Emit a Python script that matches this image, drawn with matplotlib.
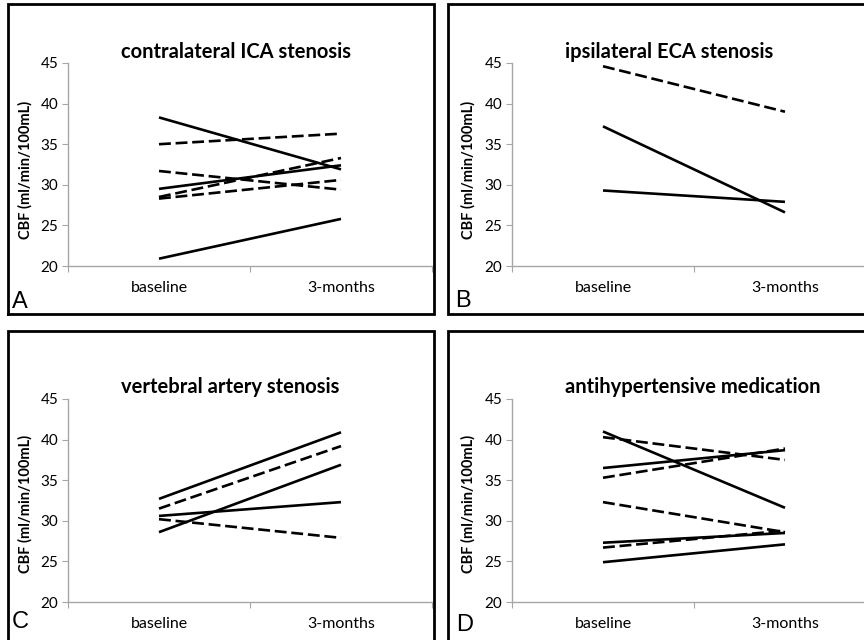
import matplotlib
matplotlib.use("Agg")
import matplotlib.pyplot as plt
from matplotlib.lines import Line2D

# -- data: CBF (ml/min/100mL) at baseline and 3 months, per patient --
categories = ["baseline", "3-months"]

panel_titles = [
    "contralateral ICA stenosis",
    "ipsilateral ECA stenosis",
    "vertebral artery stenosis",
    "antihypertensive medication",
]
panel_letters = ["A", "B", "C", "D"]

a_solid = [[38.3, 31.9], [29.5, 32.4], [20.9, 25.8]]
a_dashed = [[35.0, 36.3], [31.7, 29.4], [28.5, 33.3], [28.3, 30.6]]

b_solid = [[37.2, 26.6], [29.3, 27.9]]
b_dashed = [[44.6, 39.0]]

c_solid = [[32.7, 40.9], [28.6, 36.9], [30.6, 32.3]]
c_dashed = [[31.5, 39.2], [30.2, 27.9]]

d_solid = [[41.0, 31.6], [36.5, 38.7], [27.3, 28.5], [24.9, 27.1]]
d_dashed = [[40.3, 37.5], [35.3, 38.9], [32.3, 28.6], [26.7, 28.8]]

solid_sets = [a_solid, b_solid, c_solid, d_solid]
dashed_sets = [a_dashed, b_dashed, c_dashed, d_dashed]

W, H = 864, 640
plt.rcParams["font.family"] = ["Lato", "DejaVu Sans"]

fig = plt.figure(figsize=(W / 100, H / 100), dpi=100)


def fx(px):
    return px / W


def fy(py):
    return 1 - py / H


# axes boxes in pixels: left, top, right, bottom
boxes = [(68, 63, 432, 266), (512, 63, 876, 266),
         (68, 399, 432, 602), (512, 399, 876, 602)]
title_pos = [(121, 52), (565, 52), (121, 387), (565, 387)]
ylabel_pos = [(25, 170), (468, 170), (25, 504), (468, 504)]
letter_pos = [(12, 302), (455, 301), (12, 622), (456, 625)]

axis_grey = "#a6a6a6"
x = [0, 1]

for i in range(4):
    l, t, r, b = boxes[i]
    ax = fig.add_axes([fx(l), fy(b), fx(r - l), (b - t) / H])
    for s in solid_sets[i]:
        ax.plot(x, s, color="black", lw=1.9, solid_capstyle="butt")
    for s in dashed_sets[i]:
        ax.plot(x, s, color="black", lw=1.9, linestyle=(0, (4.5, 1.8)),
                dash_capstyle="butt")
    ax.set_xlim(-0.5, 1.5)
    ax.set_ylim(20, 45)
    ax.set_yticks([20, 25, 30, 35, 40, 45])
    ax.set_xticks([-0.5, 0.5, 1.5])
    ax.set_xticklabels([])
    ax.set_xticks(x, minor=True)
    ax.set_xticklabels(categories, minor=True, fontsize=11.5)
    ax.tick_params(axis="x", which="minor", length=0, pad=11)
    ax.tick_params(axis="x", which="major", length=4, color=axis_grey)
    ax.tick_params(axis="y", length=4, color=axis_grey, labelsize=11, pad=3)
    for side in ["top", "right"]:
        ax.spines[side].set_visible(False)
    for side in ["left", "bottom"]:
        ax.spines[side].set_color(axis_grey)
        ax.spines[side].set_linewidth(1.0)
    ax.patch.set_alpha(0)

    tx, ty = title_pos[i]
    fig.text(fx(tx), fy(ty), panel_titles[i], ha="left", va="center",
             fontsize=14.5, fontweight="bold")
    lx, ly = ylabel_pos[i]
    fig.text(fx(lx), fy(ly), "CBF (ml/min/100mL)", rotation=90,
             ha="center", va="center", fontsize=10.5, fontweight="bold")
    px_, py_ = letter_pos[i]
    fig.text(fx(px_), fy(py_), panel_letters[i], ha="left", va="center",
             fontsize=17, family="Liberation Sans")

# -- panel frames (partially cropped as in the source figure) --
frames = [
    [(8, 314), (8, 4), (434, 4), (434, 314), (8, 314)],
    [(880, 4), (448, 4), (448, 314), (880, 314)],
    [(8, 650), (8, 331), (434, 331), (434, 650)],
    [(448, 650), (448, 331), (880, 331)],
]
for pts in frames:
    xs = [fx(p[0]) for p in pts]
    ys = [fy(p[1]) for p in pts]
    fig.add_artist(Line2D(xs, ys, color="black", lw=2.0,
                          transform=fig.transFigure, solid_joinstyle="miter"))

fig.savefig("out.png", dpi=100)
